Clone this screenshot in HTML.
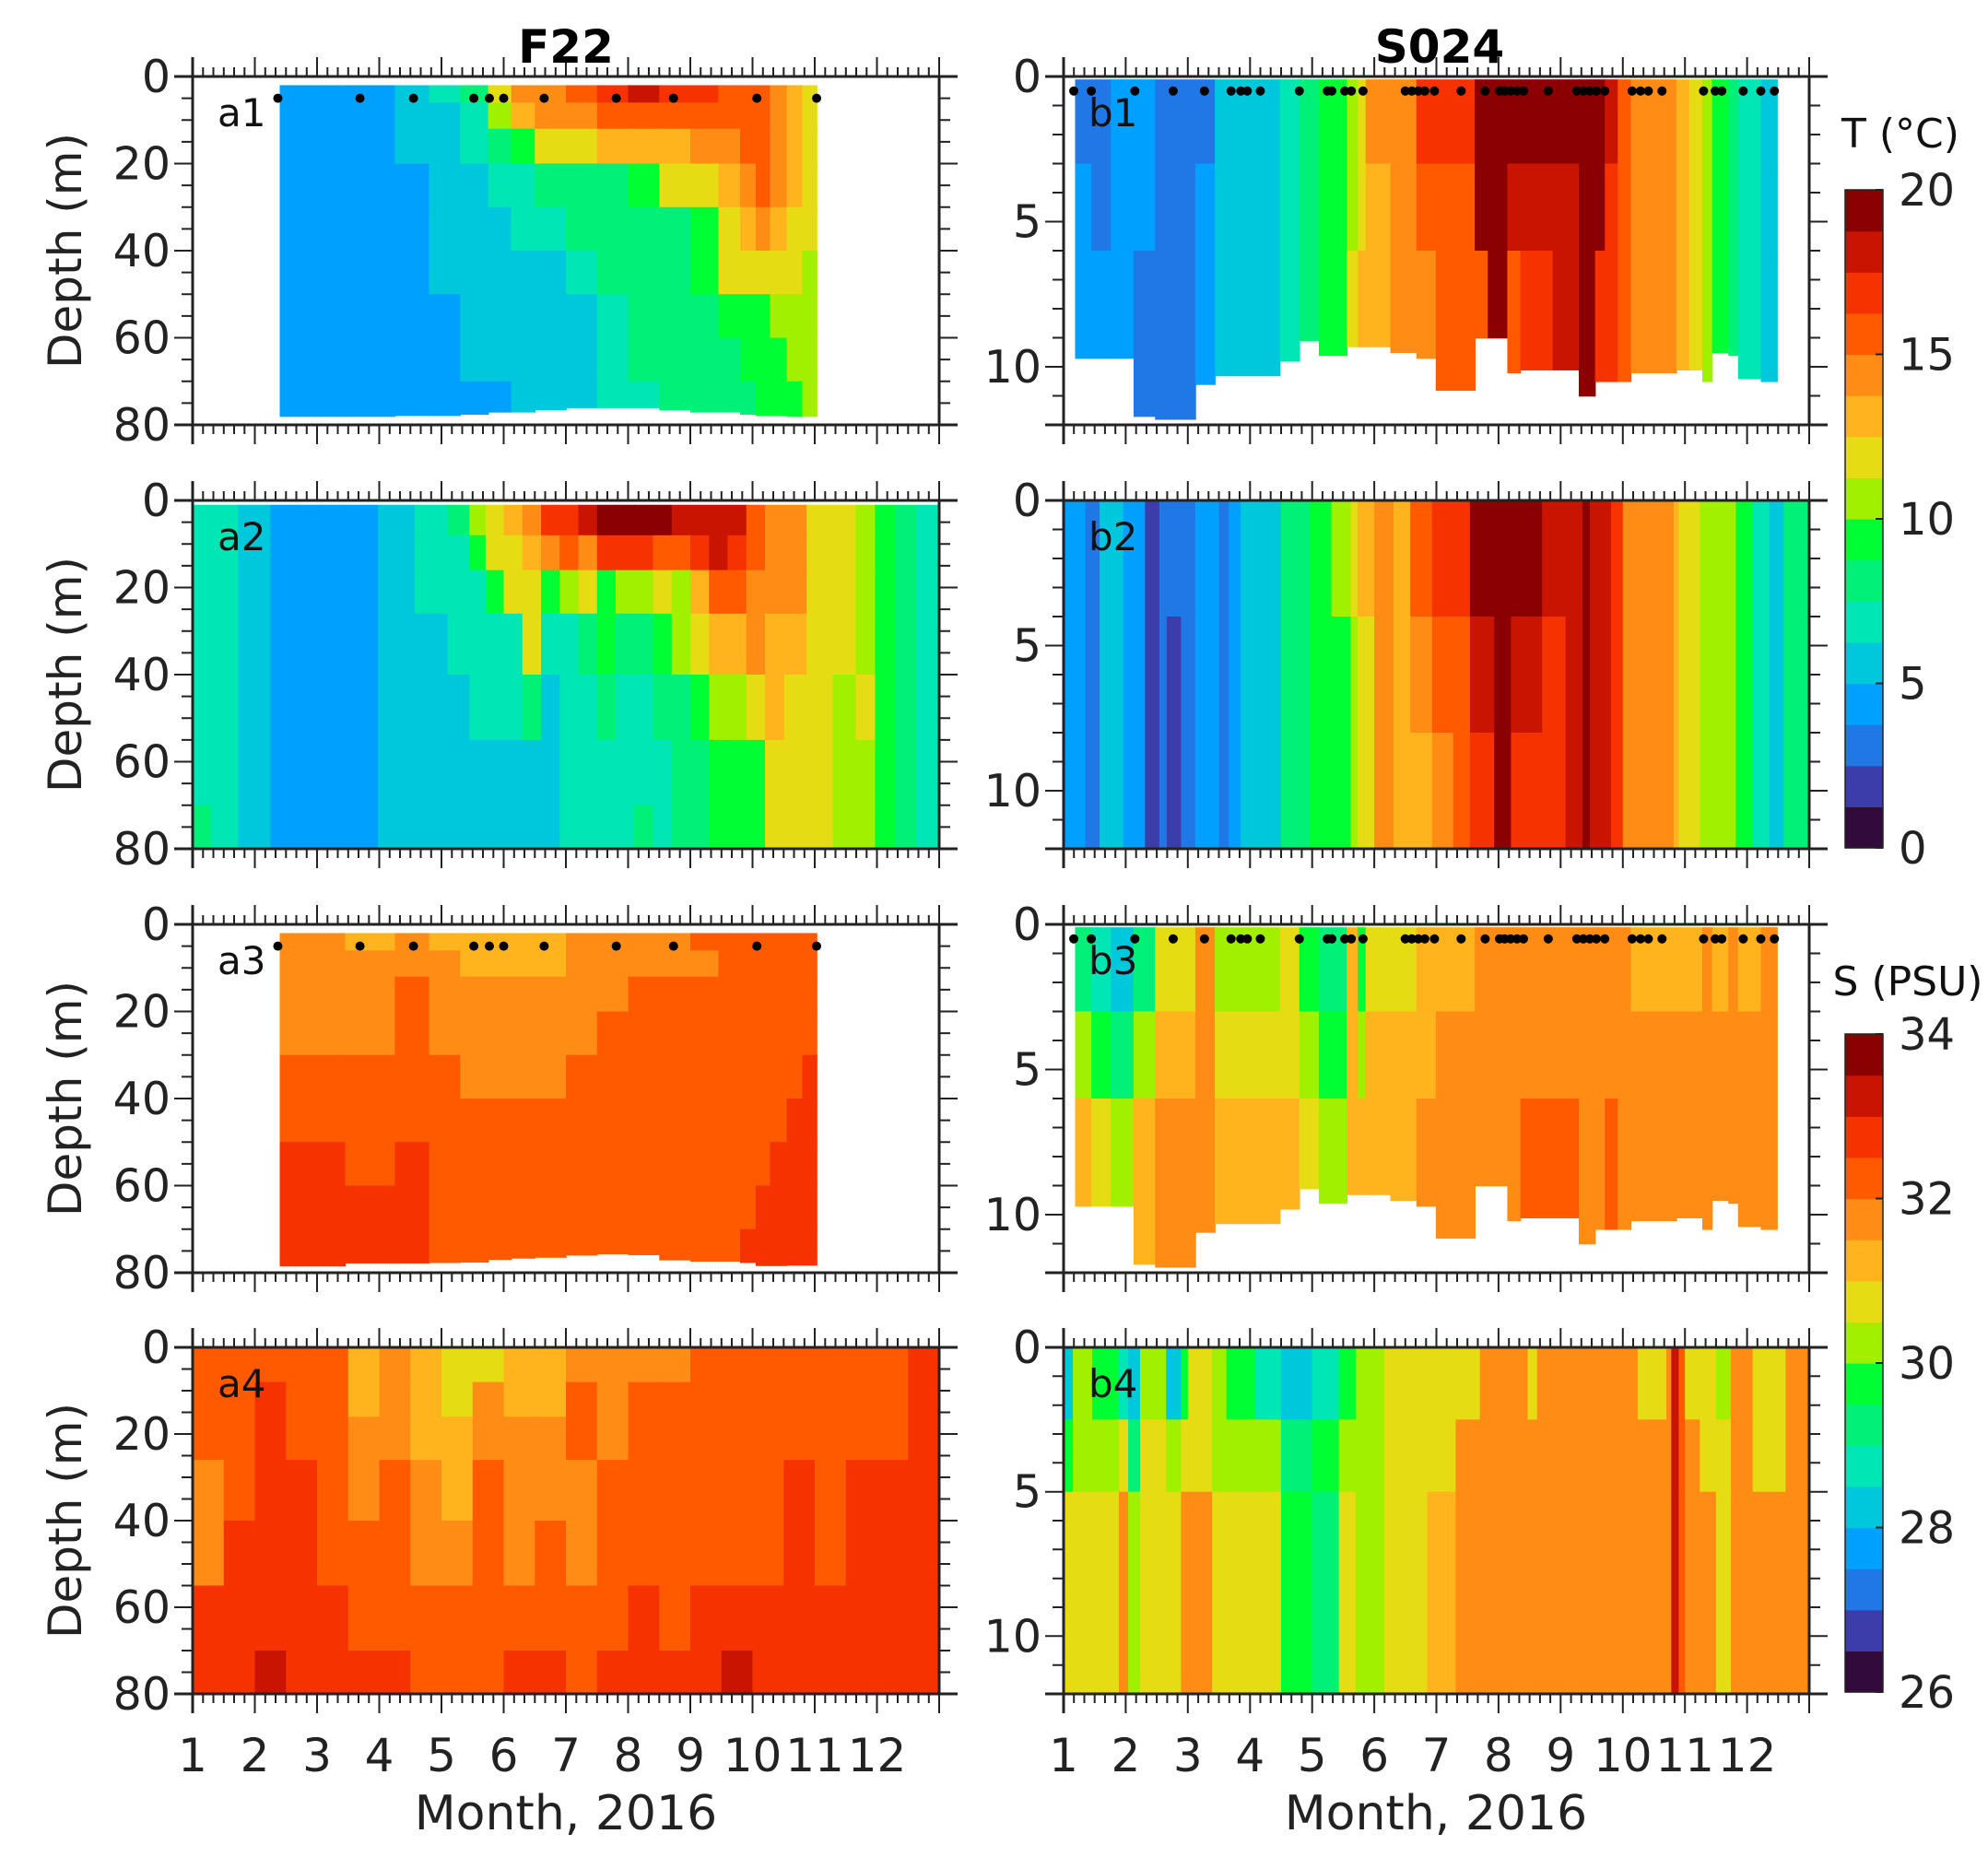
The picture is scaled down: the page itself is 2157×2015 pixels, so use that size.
<!DOCTYPE html>
<html><head><meta charset="utf-8"><title>F22 / S024 temperature and salinity sections, 2016</title>
<style>
html,body{margin:0;padding:0;background:#fff;}
svg{display:block;font-family:"DejaVu Sans","Liberation Sans",sans-serif;}
</style></head>
<body>
<svg id="fig" width="2157" height="2015" viewBox="0 0 2157 2015" xmlns="http://www.w3.org/2000/svg">
<rect x="0" y="0" width="2157" height="2015" fill="#fff"/>
<g id="marks"></g>
<g id="axes"></g>
<text x="614" y="68" font-size="50" font-weight="bold" text-anchor="middle">F22</text>
<text x="1562" y="68" font-size="50" font-weight="bold" text-anchor="middle">S024</text>
<text x="614" y="1985" font-size="52" text-anchor="middle" fill="#222">Month, 2016</text>
<text x="1558" y="1985" font-size="52" text-anchor="middle" fill="#222">Month, 2016</text>
<text x="2062" y="160" font-size="44" text-anchor="middle" fill="#111">T (°C)</text>
<text x="2070" y="1080" font-size="44" text-anchor="middle" fill="#111">S (PSU)</text>
</svg>
<script>
// ---------- colour scales ----------
const tColors = ['#320a3c','#3c3caa','#2078e6','#00a0ff','#00c8dc','#00e6b4','#00f078','#00ff32','#a0f000','#e6dc14','#ffb41e','#ff8c14','#ff5a00','#f53200','#c81400','#8b0000'];
const tTicks = [0,5,10,15,20];
const sTicks = [26,28,30,32,34];
const monthTicks = [1,2,3,4,5,6,7,8,9,10,11,12];
const depthTicksA = [0,20,40,60,80];
const depthTicksB = [0,5,10];

// ---------- a1: F22 CTD temperature ----------
const a1Months = [2.4,3.45,4.25,4.8,5.3,5.75,6.12,6.5,7.0,7.5,8.0,8.5,9.0,9.45,9.8,10.05,10.28,10.55,10.8,11.03];
const a1Depths = [2,6,12,20,30,40,50,60,70,78];
const a1Bottom = [78,78,77.8,77.8,77.5,77,77,76.5,76,76,76,76.5,77,77,77.5,77.8,77.8,78,78];
const a1Temp = [
 [4.4,4.4,5.6,6.9,8.1,11.9,14.4,14.4,15.6,16.9,18.1,16.9,16.9,15.6,15.6,15.6,14.4,13.1,11.9],
 [4.4,4.4,5.6,5.6,6.9,10.6,13.1,14.4,14.4,15.6,15.6,15.6,15.6,15.6,15.6,15.6,14.4,13.1,11.9],
 [4.4,4.4,5.6,5.6,6.9,8.1,9.4,11.9,11.9,13.1,13.1,13.1,14.4,14.4,15.6,15.6,14.4,13.1,11.9],
 [4.4,4.4,4.4,5.6,5.6,6.9,6.9,8.1,8.1,8.1,9.4,11.9,11.9,13.1,14.4,15.6,14.4,13.1,11.9],
 [4.4,4.4,4.4,5.6,5.6,5.6,6.9,6.9,8.1,8.1,8.1,8.1,9.4,11.9,13.1,14.4,13.1,11.9,11.9],
 [4.4,4.4,4.4,5.6,5.6,5.6,5.6,5.6,6.9,8.1,8.1,8.1,9.4,11.9,11.9,11.9,11.9,11.9,10.6],
 [4.4,4.4,4.4,4.4,5.6,5.6,5.6,5.6,5.6,6.9,8.1,8.1,8.1,9.4,9.4,9.4,10.6,10.6,10.6],
 [4.4,4.4,4.4,4.4,5.6,5.6,5.6,5.6,5.6,6.9,8.1,8.1,8.1,8.1,9.4,9.4,9.4,10.6,10.6],
 [4.4,4.4,4.4,4.4,4.4,4.4,5.6,5.6,5.6,6.9,6.9,8.1,8.1,8.1,8.1,9.4,9.4,9.4,10.6]
];
const aCastMonths = [2.37,3.69,4.55,5.52,5.77,6.0,6.65,7.81,8.73,10.07,11.03];

// ---------- a3: F22 CTD salinity ----------
const a3Bottom = [78.4,77.7,77.7,77.6,77.5,76.9,76.6,76.4,75.9,75.6,75.8,77,77.3,77.3,77.6,78.3,78.3,78.2,78.2];
const a3Sal = [
 [31.8,31.3,31.8,31.3,31.3,31.3,31.3,31.3,31.8,31.8,31.8,31.8,32.3,32.3,32.3,32.3,32.3,32.3,32.3],
 [31.8,31.8,31.8,31.8,31.3,31.3,31.3,31.3,31.8,31.8,31.8,31.8,31.8,32.3,32.3,32.3,32.3,32.3,32.3],
 [31.8,31.8,32.3,31.8,31.8,31.8,31.8,31.8,31.8,31.8,32.3,32.3,32.3,32.3,32.3,32.3,32.3,32.3,32.3],
 [31.8,31.8,32.3,31.8,31.8,31.8,31.8,31.8,31.8,32.3,32.3,32.3,32.3,32.3,32.3,32.3,32.3,32.3,32.3],
 [32.3,32.3,32.3,32.3,31.8,31.8,31.8,31.8,32.3,32.3,32.3,32.3,32.3,32.3,32.3,32.3,32.3,32.3,32.8],
 [32.3,32.3,32.3,32.3,32.3,32.3,32.3,32.3,32.3,32.3,32.3,32.3,32.3,32.3,32.3,32.3,32.3,32.8,32.8],
 [32.8,32.3,32.8,32.3,32.3,32.3,32.3,32.3,32.3,32.3,32.3,32.3,32.3,32.3,32.3,32.3,32.8,32.8,32.8],
 [32.8,32.8,32.8,32.3,32.3,32.3,32.3,32.3,32.3,32.3,32.3,32.3,32.3,32.3,32.3,32.8,32.8,32.8,32.8],
 [32.8,32.8,32.8,32.3,32.3,32.3,32.3,32.3,32.3,32.3,32.3,32.3,32.3,32.3,32.8,32.8,32.8,32.8,32.8]
];

// ---------- a2: F22 mooring temperature ----------
const a2Months = [1,1.3,1.73,2.25,2.68,3.03,3.45,3.98,4.57,5.1,5.45,5.71,6.0,6.3,6.6,6.9,7.2,7.5,7.8,8.1,8.4,8.7,9.0,9.3,9.6,9.9,10.2,10.51,10.87,11.29,11.66,11.97,12.29,12.63,13];
const a2Depths = [1,8,16,26,40,55,70,80];
const a2Temp = [
 [6.9,6.9,5.6,4.4,4.4,4.4,4.4,5.6,6.9,8.1,10.6,11.9,13.1,14.4,16.9,16.9,18.1,19.4,19.4,19.4,19.4,18.1,18.1,18.1,18.1,15.6,14.4,14.4,11.9,11.9,10.6,9.4,8.1,6.9],
 [6.9,6.9,5.6,4.4,4.4,4.4,4.4,5.6,6.9,6.9,9.4,11.9,11.9,13.1,14.4,15.6,14.4,16.9,16.9,16.9,15.6,15.6,16.9,18.1,16.9,15.6,14.4,14.4,11.9,11.9,10.6,9.4,8.1,6.9],
 [6.9,6.9,5.6,4.4,4.4,4.4,4.4,5.6,6.9,6.9,6.9,9.4,11.9,11.9,9.4,10.6,11.9,9.4,10.6,10.6,11.9,10.6,13.1,15.6,15.6,14.4,14.4,14.4,11.9,11.9,10.6,9.4,8.1,6.9],
 [6.9,6.9,5.6,4.4,4.4,4.4,4.4,5.6,5.6,6.9,6.9,6.9,6.9,11.9,6.9,6.9,8.1,9.4,8.1,8.1,9.4,10.6,11.9,13.1,13.1,14.4,13.1,13.1,11.9,11.9,10.6,9.4,8.1,6.9],
 [6.9,6.9,5.6,4.4,4.4,4.4,4.4,5.6,5.6,5.6,6.9,6.9,6.9,8.1,5.6,6.9,6.9,8.1,6.9,6.9,8.1,8.1,9.4,10.6,10.6,11.9,13.1,11.9,11.9,10.6,11.9,9.4,8.1,6.9],
 [6.9,6.9,5.6,4.4,4.4,4.4,4.4,5.6,5.6,5.6,5.6,5.6,5.6,5.6,5.6,6.9,6.9,6.9,6.9,6.9,6.9,8.1,8.1,9.4,9.4,9.4,11.9,11.9,11.9,10.6,10.6,9.4,8.1,6.9],
 [8.1,6.9,5.6,4.4,4.4,4.4,4.4,5.6,5.6,5.6,5.6,5.6,5.6,5.6,5.6,6.9,6.9,6.9,6.9,8.1,6.9,8.1,8.1,9.4,9.4,9.4,11.9,11.9,11.9,10.6,10.6,9.4,8.1,6.9]
];

// ---------- a4: F22 mooring salinity ----------
const a4Months = [1,1.5,2,2.5,3,3.5,4,4.5,5,5.5,6,6.5,7,7.5,8,8.5,9,9.5,10,10.5,11,11.5,12,12.5,13];
const a4Depths = [0,8,16,26,40,55,70,80];
const a4Sal = [
 [32.3,32.3,32.3,32.3,32.3,31.3,31.8,31.3,30.8,30.8,31.3,31.3,31.8,31.8,31.8,31.8,32.3,32.3,32.3,32.3,32.3,32.3,32.3,32.8],
 [32.3,32.3,32.8,32.3,32.3,31.3,31.8,31.3,30.8,31.8,31.3,31.3,32.3,31.8,32.3,32.3,32.3,32.3,32.3,32.3,32.3,32.3,32.3,32.8],
 [32.3,32.3,32.8,32.3,32.3,31.8,31.8,31.3,31.3,31.8,31.8,31.8,32.3,31.8,32.3,32.3,32.3,32.3,32.3,32.3,32.3,32.3,32.3,32.8],
 [31.8,32.3,32.8,32.8,32.3,31.8,32.3,31.8,31.3,32.3,31.8,31.8,31.8,32.3,32.3,32.3,32.3,32.3,32.3,32.8,32.3,32.8,32.8,32.8],
 [31.8,32.8,32.8,32.8,32.3,32.3,32.3,31.8,31.8,32.3,31.8,32.3,31.8,32.3,32.3,32.3,32.3,32.3,32.3,32.8,32.3,32.8,32.8,32.8],
 [32.8,32.8,32.8,32.8,32.8,32.3,32.3,32.3,32.3,32.3,32.3,32.3,32.3,32.3,32.8,32.3,32.8,32.8,32.8,32.8,32.8,32.8,32.8,32.8],
 [32.8,32.8,33.3,32.8,32.8,32.8,32.8,32.3,32.3,32.3,32.8,32.8,32.3,32.8,32.8,32.8,32.8,33.3,32.8,32.8,32.8,32.8,32.8,32.8]
];

// ---------- b1 / b3: S024 CTD ----------
const b1Months = [1.185,1.447,1.76,2.126,2.472,3.12,3.434,4.48,4.794,5.108,5.557,5.735,5.861,6.258,6.677,6.99,7.618,7.827,8.141,8.35,8.873,9.292,9.553,9.71,9.919,10.128,10.861,11.07,11.279,11.436,11.698,11.854,12.221,12.482];
const b1Depths = [0.1,3,6,12];
const b1Bottom = [9.7,9.7,9.7,11.7,11.8,10.6,10.3,9.8,9.1,9.6,9.3,9.3,9.3,9.5,9.7,10.8,9.0,9.0,10.2,10.1,10.1,11.0,10.5,10.5,10.5,10.2,10.1,10.1,10.5,9.5,9.6,10.4,10.5];
const b1Temp = [
 [3.1,3.1,4.4,4.4,3.1,3.1,5.6,6.9,8.1,9.4,10.6,11.9,14.4,14.4,16.9,16.9,19.4,19.4,19.4,19.4,19.4,19.4,19.4,18.1,15.6,14.4,13.1,11.9,10.6,9.4,8.1,6.9,5.6],
 [4.4,3.1,4.4,4.4,3.1,4.4,5.6,6.9,8.1,9.4,10.6,11.9,13.1,14.4,15.6,15.6,19.4,19.4,18.1,18.1,18.1,19.4,19.4,16.9,15.6,14.4,13.1,11.9,10.6,9.4,8.1,6.9,5.6],
 [4.4,4.4,4.4,3.1,3.1,4.4,5.6,6.9,8.1,9.4,11.9,13.1,13.1,14.4,14.4,15.6,15.6,19.4,15.6,16.9,18.1,19.4,16.9,16.9,15.6,14.4,13.1,11.9,10.6,9.4,8.1,6.9,5.6]
];
const b3Sal = [
 [29.3,28.8,28.3,29.3,30.8,31.8,30.3,30.8,29.8,29.3,31.3,29.8,30.8,30.8,31.3,31.3,31.8,31.8,31.8,31.8,31.8,31.8,31.8,31.8,31.8,31.3,31.3,31.3,31.8,31.3,31.8,31.3,31.8],
 [30.3,29.8,29.3,30.3,31.3,31.8,30.8,30.8,30.3,29.8,31.3,30.3,31.3,31.3,31.3,31.8,31.8,31.8,31.8,31.8,31.8,31.8,31.8,31.8,31.8,31.8,31.8,31.8,31.8,31.8,31.8,31.8,31.8],
 [31.3,30.8,30.3,31.3,31.8,31.8,31.3,31.3,30.8,30.3,31.3,31.3,31.3,31.3,31.8,31.8,31.8,31.8,31.8,32.3,32.3,31.8,31.8,32.3,31.8,31.8,31.8,31.8,31.8,31.8,31.8,31.8,31.8]
];
const bCastMonths = [1.164,1.446,2.147,2.764,3.267,3.695,3.852,3.957,4.166,4.794,5.244,5.317,5.526,5.631,5.819,6.499,6.603,6.708,6.813,6.969,7.398,7.785,8.016,8.099,8.193,8.298,8.402,8.8,9.26,9.365,9.47,9.574,9.71,10.15,10.285,10.411,10.631,11.3,11.488,11.593,11.938,12.221,12.44];

// ---------- b2: S024 mooring temperature ----------
const b2Months = [1,1.35,1.58,1.96,2.31,2.54,2.66,2.89,3.12,3.5,3.66,3.85,4.23,4.5,4.96,5.31,5.62,5.73,6.0,6.31,6.58,6.93,7.27,7.54,7.93,8.2,8.7,9.08,9.35,9.47,9.81,10.0,10.82,10.9,11.24,11.4,11.82,12.09,12.36,12.59,13];
const b2Depths = [0,4,8,12];
const b2Temp = [
 [4.4,3.1,5.6,4.4,1.9,3.1,3.1,3.1,4.4,3.1,4.4,5.6,5.6,8.1,9.4,10.6,11.9,13.1,14.4,13.1,15.6,16.9,16.9,19.4,19.4,19.4,18.1,18.1,19.4,18.1,16.9,14.4,13.1,11.9,10.6,10.6,9.4,6.9,5.6,8.1],
 [4.4,3.1,5.6,4.4,1.9,3.1,1.9,3.1,4.4,3.1,4.4,5.6,5.6,8.1,9.4,9.4,10.6,11.9,14.4,13.1,14.4,15.6,15.6,18.1,19.4,18.1,16.9,18.1,19.4,18.1,16.9,14.4,13.1,11.9,10.6,10.6,9.4,6.9,5.6,8.1],
 [4.4,3.1,5.6,4.4,1.9,3.1,1.9,3.1,4.4,3.1,4.4,5.6,5.6,8.1,9.4,9.4,10.6,11.9,14.4,13.1,13.1,14.4,15.6,16.9,19.4,16.9,16.9,18.1,19.4,18.1,16.9,14.4,13.1,11.9,10.6,10.6,9.4,6.9,5.6,8.1]
];

// ---------- b4: S024 mooring salinity ----------
const b4Months = [1,1.15,1.46,1.89,2.04,2.23,2.65,2.89,3.0,3.39,3.62,4.08,4.5,5.0,5.43,5.7,6.16,6.85,7.31,7.7,8.47,8.62,10.24,10.7,10.78,10.9,11.0,11.24,11.5,11.74,12.09,12.62,13];
const b4Depths = [0,2.5,5,12];
const b4Sal = [
 [28.3,30.3,29.8,28.8,28.3,30.3,28.3,29.8,30.8,30.3,29.8,28.8,28.3,28.8,29.8,30.3,30.8,30.8,30.8,31.8,30.8,31.8,30.8,31.8,33.3,32.3,30.8,30.8,30.3,31.8,30.8,31.8],
 [29.8,30.3,30.3,30.8,29.3,30.8,30.3,30.8,30.8,30.3,30.3,30.3,29.3,29.8,30.3,30.3,30.8,30.8,31.8,31.8,31.8,31.8,31.8,31.8,33.3,32.3,31.8,30.8,30.8,31.8,30.8,31.8],
 [30.8,30.8,30.8,31.8,30.3,30.8,30.8,31.8,31.8,30.8,30.8,30.8,29.8,29.3,30.8,30.3,30.8,31.3,31.8,31.8,31.8,31.8,31.8,31.8,33.3,32.3,31.8,31.8,30.8,31.8,31.8,31.8]
];

// ---------- layout ----------
const NS = 'http://www.w3.org/2000/svg';
const colL = [209,1019], colR = [1154,1963];
const rowTop = [83,543,1003,1462], rowBot = [461,921,1381,1838];
const marks = document.getElementById('marks');
const axes = document.getElementById('axes');

function mk(tag, attrs, parent){
  const e = document.createElementNS(NS, tag);
  for (const k in attrs) e.setAttribute(k, attrs[k]);
  parent.appendChild(e);
  return e;
}
function tLevel(v){ return Math.max(0, Math.min(15, Math.floor(v/1.25))); }
function sLevel(v){ return Math.max(0, Math.min(15, Math.floor((v-26)/0.5))); }

function drawField(name, col, row, dmax, months, depths, vals, bottom, levelFn){
  const x0 = col[0], x1 = col[1], y0 = rowTop[row], y1 = rowBot[row];
  const xs = m => x0 + (m-1)/12*(x1-x0);
  const ys = d => y0 + d/dmax*(y1-y0);
  const g = mk('g', {}, marks);
  
  
  for (let i=0;i<vals.length;i++){
    for (let j=0;j<vals[i].length;j++){
      const xa = xs(months[j]), xb = xs(months[j+1]);
      const ya = ys(depths[i]);
      const yb = (i===vals.length-1 && bottom) ? ys(bottom[j]) : ys(depths[i+1]);
      const r = mk('rect', {x:xa.toFixed(2), y:ya.toFixed(2), width:(xb-xa+0.8).toFixed(2), height:(yb-ya+0.8).toFixed(2), fill:tColors[levelFn(vals[i][j])]}, g);
      
      
    }
  }
}
function drawCasts(name, col, row, dmax, casts, depth){
  const x0 = col[0], x1 = col[1], y0 = rowTop[row], y1 = rowBot[row];
  const g = mk('g', {}, marks);
  
  
  casts.forEach(m => {
    const c = mk('ellipse', {cx:(x0+(m-1)/12*(x1-x0)).toFixed(2), cy:(y0+depth/dmax*(y1-y0)).toFixed(2), rx:5, ry:5, fill:'#000'}, g);
    
    
  });
}
function drawAxes(name, col, row, dmax, majorY, minorStep, showXLabels, label){
  const x0 = col[0], x1 = col[1], y0 = rowTop[row], y1 = rowBot[row];
  const g = mk('g', {stroke:'#222', 'stroke-width':2, fill:'none'}, axes);
  
  
  const frame = mk('path', {d:`M${x0-20},${y0}H${x1+20}M${x0-20},${y1}H${x1+20}M${x0},${y0-21}V${y1+21}M${x1},${y0}V${y1}`, 'stroke-width':3}, g);
  
  
  let d = '';
  for (let k=0;k<=72;k++){
    const m = 1 + k/6, x = x0 + (m-1)/12*(x1-x0);
    const L = (k%6===0) ? 21 : 10;
    d += `M${x.toFixed(1)},${y0}V${y0-L}M${x.toFixed(1)},${y1}V${y1+L}`;
  }
  for (let v=0; v<=dmax+1e-9; v+=minorStep){
    const y = y0 + v/dmax*(y1-y0);
    const major = majorY.some(t => Math.abs(t-v)<1e-6);
    const L = major ? 20 : 12;
    d += `M${x0},${y.toFixed(1)}H${x0-L}M${x1},${y.toFixed(1)}H${x1+L}`;
  }
  const ticks = mk('path', {d:d}, g);
  
  
  majorY.forEach(v => {
    const t = mk('text', {x:x0-24, y:(y0+v/dmax*(y1-y0)+17).toFixed(1), 'font-size':49, 'text-anchor':'end', fill:'#222', stroke:'none'}, axes);
    t.textContent = v;
    
    
  });
  if (showXLabels){
    monthTicks.forEach(m => {
      const t = mk('text', {x:(x0+(m-1)/12*(x1-x0)).toFixed(1), y:1922, 'font-size':50, 'text-anchor':'middle', fill:'#222', stroke:'none'}, axes);
      t.textContent = m;
      
      
    });
  }
  const pl = mk('text', {x:x0+27, y:y0+54, 'font-size':42, fill:'#111', stroke:'none'}, axes);
  pl.textContent = label;
  
  
  if (col === colL){
    const cy = (y0+y1)/2;
    const yl = mk('text', {x:88, y:cy, 'font-size':50, 'text-anchor':'middle', fill:'#222', stroke:'none', transform:`rotate(-90 88 ${cy})`}, axes);
    yl.textContent = 'Depth (m)';
    
    
  }
}
function drawColorbar(name, yTop, yBot, vmin, vmax, ticks){
  const x = 2002, w = 41;
  const g = mk('g', {}, axes);
  
  
  const h = (yBot-yTop)/16;
  for (let k=0;k<16;k++){
    const r = mk('rect', {x:x, y:(yBot-(k+1)*h).toFixed(2), width:w, height:(h+0.6).toFixed(2), fill:tColors[k]}, g);
    
    
  }
  const fr = mk('rect', {x:x, y:yTop, width:w, height:yBot-yTop, fill:'none', stroke:'#222', 'stroke-width':1.5}, g);
  
  
  ticks.forEach(v => {
    const y = yBot - (v-vmin)/(vmax-vmin)*(yBot-yTop);
    const tk = mk('line', {x1:x+w-8, x2:x+w, y1:y, y2:y, stroke:'#222', 'stroke-width':2}, g);
    
    
    const t = mk('text', {x:2060, y:(y+17).toFixed(1), 'font-size':48, fill:'#222'}, g);
    t.textContent = v;
    
    
  });
}

// fields
drawField('a1', colL, 0, 80, a1Months, a1Depths, a1Temp, a1Bottom, tLevel);
drawField('a2', colL, 1, 80, a2Months, a2Depths, a2Temp, null, tLevel);
drawField('a3', colL, 2, 80, a1Months, a1Depths, a3Sal, a3Bottom, sLevel);
drawField('a4', colL, 3, 80, a4Months, a4Depths, a4Sal, null, sLevel);
drawField('b1', colR, 0, 12, b1Months, b1Depths, b1Temp, b1Bottom, tLevel);
drawField('b2', colR, 1, 12, b2Months, b2Depths, b2Temp, null, tLevel);
drawField('b3', colR, 2, 12, b1Months, b1Depths, b3Sal, b1Bottom, sLevel);
drawField('b4', colR, 3, 12, b4Months, b4Depths, b4Sal, null, sLevel);
drawCasts('a1', colL, 0, 80, aCastMonths, 5);
drawCasts('a3', colL, 2, 80, aCastMonths, 5);
drawCasts('b1', colR, 0, 12, bCastMonths, 0.5);
drawCasts('b3', colR, 2, 12, bCastMonths, 0.5);
// axes
drawAxes('a1', colL, 0, 80, depthTicksA, 5, false, 'a1');
drawAxes('a2', colL, 1, 80, depthTicksA, 5, false, 'a2');
drawAxes('a3', colL, 2, 80, depthTicksA, 5, false, 'a3');
drawAxes('a4', colL, 3, 80, depthTicksA, 5, true, 'a4');
drawAxes('b1', colR, 0, 12, depthTicksB, 1, false, 'b1');
drawAxes('b2', colR, 1, 12, depthTicksB, 1, false, 'b2');
drawAxes('b3', colR, 2, 12, depthTicksB, 1, false, 'b3');
drawAxes('b4', colR, 3, 12, depthTicksB, 1, true, 'b4');
drawColorbar('temperature-colorbar', 206, 920, 0, 20, tTicks);
drawColorbar('salinity-colorbar', 1122, 1836, 26, 34, sTicks);
</script>
</body></html>
